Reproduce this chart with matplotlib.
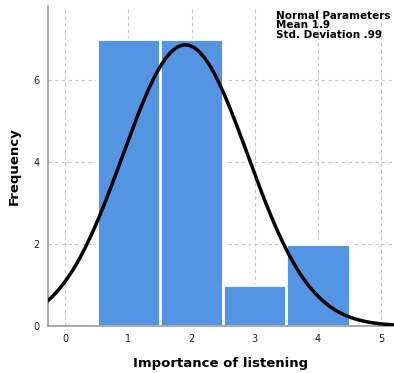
import matplotlib.pyplot as plt
import numpy as np

values = [1, 2, 3, 4]
counts = [7, 7, 1, 2]
mean = 1.9
sd = 0.99
n = sum(counts)

fig = plt.figure(figsize=(3.94, 3.73), dpi=100)
ax = fig.add_axes([0.122, 0.126, 0.878, 0.858])

ax.bar(values, counts, width=1.0, color='#5394e3', edgecolor='white', linewidth=2, zorder=2)

xs = np.linspace(-0.3, 5.3, 400)
ys = n / (sd * np.sqrt(2 * np.pi)) * np.exp(-(xs - mean) ** 2 / (2 * sd ** 2))
ax.plot(xs, ys, color='black', linewidth=2.5, zorder=3)

ax.set_xlim(-0.27, 5.2)
ax.set_ylim(0, 7.8)
ax.set_xticks([0, 1, 2, 3, 4, 5])
ax.set_yticks([0, 2, 4, 6])
ax.tick_params(length=0, labelsize=7, colors='#222222', pad=6)
ax.grid(True, linestyle=(0, (3, 3)), color='#c4c4c4', linewidth=0.8, zorder=0)
ax.set_axisbelow(True)
for s in ['top', 'right']:
    ax.spines[s].set_visible(False)
for s in ['left', 'bottom']:
    ax.spines[s].set_color('#999999')
    ax.spines[s].set_linewidth(1.2)

ax.set_xlabel('Importance of listening', fontsize=9.5, fontweight='bold', labelpad=9)
ax.set_ylabel('Frequency', fontsize=9.5, fontweight='bold', labelpad=9)

ax.text(0.66, 0.985, 'Normal Parameters\nMean 1.9\nStd. Deviation .99', transform=ax.transAxes,
        ha='left', va='top', fontsize=7.5, fontweight='bold', linespacing=0.95)

fig.savefig('out.png', dpi=100)
